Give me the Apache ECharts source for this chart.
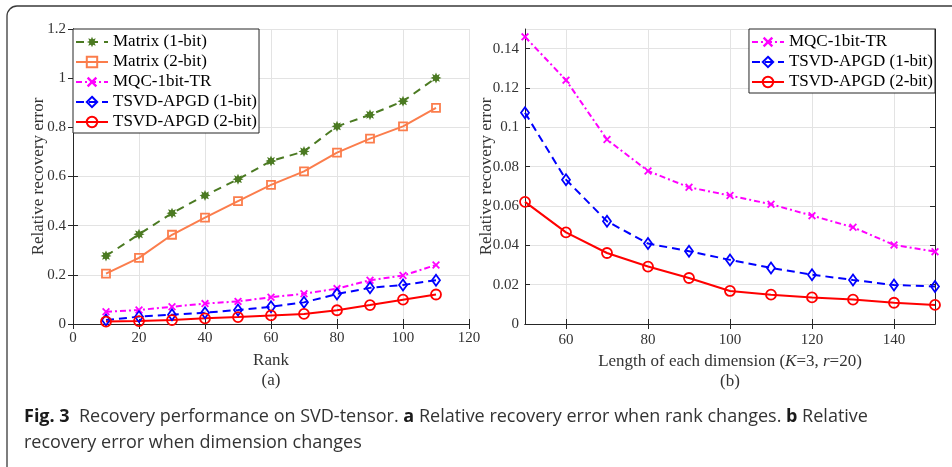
<!DOCTYPE html>
<html>
<head>
<meta charset="utf-8">
<script src="https://cdn.jsdelivr.net/npm/echarts@6/dist/echarts.min.js"></script>
<style>html,body{margin:0;padding:0;background:#fff;}#c{width:952px;height:467px;}</style>
</head>
<body>
<div id="c"></div>
<script>
// ---- Data: panel (a) ----
const rankX = [10, 20, 30, 40, 50, 60, 70, 80, 90, 100, 110];
const matrix1bit = [0.277, 0.365, 0.451, 0.523, 0.589, 0.663, 0.702, 0.804, 0.851, 0.906, 1.001];
const matrix2bit = [0.205, 0.269, 0.363, 0.433, 0.500, 0.566, 0.621, 0.697, 0.754, 0.804, 0.879];
const mqcA = [0.050, 0.057, 0.070, 0.083, 0.092, 0.109, 0.123, 0.144, 0.178, 0.197, 0.240];
const tsvd1A = [0.016, 0.030, 0.038, 0.046, 0.057, 0.070, 0.088, 0.122, 0.147, 0.159, 0.178];
const tsvd2A = [0.010, 0.012, 0.016, 0.023, 0.028, 0.035, 0.041, 0.056, 0.077, 0.099, 0.120];

// ---- Data: panel (b) ----
const dimX = ['50', '60', '70', '80', '90', '100', '110', '120', '130', '140', '150'];
const dimTickLabels = ['60', '80', '100', '120', '140'];
const mqcB = [0.1460, 0.1240, 0.0938, 0.0778, 0.0695, 0.0653, 0.0609, 0.0551, 0.0492, 0.0402, 0.0368];
const tsvd1B = [0.1074, 0.0734, 0.0522, 0.0409, 0.0370, 0.0326, 0.0285, 0.0251, 0.0224, 0.0198, 0.0191];
const tsvd2B = [0.0621, 0.0466, 0.0361, 0.0292, 0.0234, 0.0168, 0.0149, 0.0135, 0.0124, 0.0108, 0.0097];

const names = ['Matrix (1-bit)', 'Matrix (2-bit)', 'MQC-1bit-TR', 'TSVD-APGD (1-bit)', 'TSVD-APGD (2-bit)'];

const SERIF = '"Liberation Serif", "DejaVu Serif", "Times New Roman", serif';
const SANS = '"Liberation Sans Narrow", "Open Sans", sans-serif';
const AX = '#262626';
const GRID = '#e3e3e3';

// marker glyphs
function starPath(n, inner) {
  let d = '';
  for (let i = 0; i < 2 * n; i++) {
    const r = i % 2 === 0 ? 10 : 10 * inner;
    const a = Math.PI * i / n - Math.PI / 2;
    d += (i === 0 ? 'M' : 'L') + (10 + r * Math.cos(a)).toFixed(2) + ',' + (10 + r * Math.sin(a)).toFixed(2);
  }
  return 'path://' + d + 'Z';
}
const ASTER = starPath(8, 0.55);
const XMARK = 'path://M0,1.6L1.6,0L5,3.4L8.4,0L10,1.6L6.6,5L10,8.4L8.4,10L5,6.6L1.6,10L0,8.4L3.4,5Z';

const styles = {
  'Matrix (1-bit)': {color: '#4b7a22', type: [8, 6], symbol: ASTER, size: 11, fill: true},
  'Matrix (2-bit)': {color: '#fb7d4c', type: 'solid', symbol: 'rect', size: 8, fill: false},
  'MQC-1bit-TR': {color: '#ff00ff', type: [6, 3, 2, 3], symbol: XMARK, size: 8, fill: true},
  'TSVD-APGD (1-bit)': {color: '#0000ff', type: [8, 5], symbol: 'diamond', size: [8, 11], fill: false},
  'TSVD-APGD (2-bit)': {color: '#ff0000', type: 'solid', symbol: 'circle', size: 10, fill: false}
};

function mk(name, data, xi, yi) {
  const s = styles[name];
  return {
    name: name, type: 'line', xAxisIndex: xi, yAxisIndex: yi, data: data,
    symbol: s.symbol, symbolSize: s.size, showAllSymbol: true, animation: false,
    lineStyle: {color: s.color, width: 2, type: s.type},
    itemStyle: s.fill ? {color: s.color, borderWidth: 0} : {color: 'rgba(0,0,0,0)', borderColor: s.color, borderWidth: 1.8},
    emphasis: {disabled: true}
  };
}

const pair = (xs, ys) => xs.map((x, i) => [x, ys[i]]);

const tickLbl = {fontFamily: SERIF, fontSize: 15, color: '#333'};
const nameStyle = {fontFamily: SERIF, fontSize: 17, color: '#333'};
const legendText = {fontFamily: SERIF, fontSize: 17, lineHeight: 20, color: '#000'};

const option = {
  animation: false,
  backgroundColor: '#fff',
  grid: [
    {left: 73, top: 29, width: 396, height: 295},
    {left: 525, top: 29, width: 410, height: 295}
  ],
  xAxis: [
    {type: 'value', gridIndex: 0, min: 0, max: 120, interval: 20, position: 'bottom',
      axisLine: {lineStyle: {color: AX}}, axisTick: {inside: true, length: 5, lineStyle: {color: AX}},
      axisLabel: Object.assign({margin: 7}, tickLbl), splitLine: {show: true, lineStyle: {color: GRID}},
      name: 'Rank', nameLocation: 'middle', nameGap: 28, nameMoveOverlap: false, nameTextStyle: nameStyle},
    {type: 'value', gridIndex: 0, min: 0, max: 120, interval: 20, position: 'top',
      axisLine: {lineStyle: {color: AX}}, axisTick: {inside: true, length: 5, lineStyle: {color: AX}},
      axisLabel: {show: false}, splitLine: {show: false}},
    {type: 'category', gridIndex: 1, data: dimX, boundaryGap: false, position: 'bottom',
      axisLine: {lineStyle: {color: AX}},
      axisTick: {inside: true, length: 5, lineStyle: {color: AX}, interval: (i, v) => dimTickLabels.indexOf(v) >= 0},
      axisLabel: Object.assign({margin: 9, interval: (i, v) => dimTickLabels.indexOf(v) >= 0}, tickLbl),
      splitLine: {show: true, interval: (i, v) => dimTickLabels.indexOf(v) >= 0, lineStyle: {color: GRID}},
      name: 'Length of each dimension ({i|K}=3, {i|r}=20)', nameLocation: 'middle', nameGap: 29, nameMoveOverlap: false,
      nameTextStyle: Object.assign({rich: {i: {fontFamily: SERIF, fontSize: 17, fontStyle: 'italic', color: '#333'}}}, nameStyle)},
    {type: 'category', gridIndex: 1, data: dimX, boundaryGap: false, position: 'top',
      axisLine: {lineStyle: {color: AX}},
      axisTick: {inside: true, length: 5, lineStyle: {color: AX}, interval: (i, v) => dimTickLabels.indexOf(v) >= 0},
      axisLabel: {show: false}, splitLine: {show: false}}
  ],
  yAxis: [
    {type: 'value', gridIndex: 0, min: 0, max: 1.2, interval: 0.2, position: 'left',
      axisLine: {show: true, lineStyle: {color: AX}}, axisTick: {show: true, inside: true, length: 5, lineStyle: {color: AX}},
      axisLabel: Object.assign({margin: 7}, tickLbl), splitLine: {show: true, lineStyle: {color: GRID}},
      name: 'Relative recovery error', nameLocation: 'middle', nameGap: 26, nameMoveOverlap: false, nameTextStyle: nameStyle},
    {type: 'value', gridIndex: 0, min: 0, max: 1.2, interval: 0.2, position: 'right',
      axisLine: {show: true, lineStyle: {color: AX}}, axisTick: {show: true, inside: true, length: 5, lineStyle: {color: AX}},
      axisLabel: {show: false}, splitLine: {show: false}},
    {type: 'value', gridIndex: 1, min: 0, max: 0.15, interval: 0.02, position: 'left',
      axisLine: {show: true, lineStyle: {color: AX}}, axisTick: {show: true, inside: true, length: 5, lineStyle: {color: AX}},
      axisLabel: Object.assign({margin: 6, showMaxLabel: false}, tickLbl), splitLine: {show: true, lineStyle: {color: GRID}},
      name: 'Relative recovery error', nameLocation: 'middle', nameGap: 30, nameMoveOverlap: false, nameTextStyle: nameStyle},
    {type: 'value', gridIndex: 1, min: 0, max: 0.15, interval: 0.02, position: 'right',
      axisLine: {show: true, lineStyle: {color: AX}}, axisTick: {show: true, inside: true, length: 5, lineStyle: {color: AX}},
      axisLabel: {show: false}, splitLine: {show: false}}
  ],
  legend: [
    {data: names, left: 73, top: 29, orient: 'vertical', padding: [3, 2, 1, 2], itemGap: 0,
      itemWidth: 32, itemHeight: 13, backgroundColor: '#fff', borderColor: AX, borderWidth: 1,
      textStyle: legendText, selectedMode: false},
    {data: names.slice(2), right: 17, top: 29, orient: 'vertical', padding: [3, 2, 1, 2], itemGap: 0,
      itemWidth: 32, itemHeight: 13, backgroundColor: '#fff', borderColor: AX, borderWidth: 1,
      textStyle: legendText, selectedMode: false}
  ],
  graphic: [
    {type: 'rect', shape: {x: 7, y: 6, width: 1000, height: 520, r: 10}, style: {fill: 'none', stroke: '#3a3a3a', lineWidth: 1.3}, z: -1, silent: true},
    {type: 'text', x: 271, y: 381, style: {text: '(a)', font: '17px ' + SERIF, fill: '#333', align: 'center', verticalAlign: 'middle'}},
    {type: 'text', x: 730, y: 382, style: {text: '(b)', font: '17px ' + SERIF, fill: '#333', align: 'center', verticalAlign: 'middle'}},
    {type: 'text', x: 24, y: 417, style: {
      text: '{b|Fig. 3}  Recovery performance on SVD-tensor. {b|a} Relative recovery error when rank changes. {b|b} Relative',
      font: '18px ' + SANS, fill: '#333', verticalAlign: 'middle',
      rich: {b: {fontWeight: 'bold', fontSize: 18, fontFamily: SANS, fill: '#1a1a1a'}}}},
    {type: 'text', x: 24, y: 443, style: {
      text: 'recovery error when dimension changes', font: '18px ' + SANS, fill: '#333', verticalAlign: 'middle'}}
  ],
  series: [
    mk(names[0], pair(rankX, matrix1bit), 0, 0),
    mk(names[1], pair(rankX, matrix2bit), 0, 0),
    mk(names[2], pair(rankX, mqcA), 0, 0),
    mk(names[3], pair(rankX, tsvd1A), 0, 0),
    mk(names[4], pair(rankX, tsvd2A), 0, 0),
    mk(names[2], mqcB, 2, 2),
    mk(names[3], tsvd1B, 2, 2),
    mk(names[4], tsvd2B, 2, 2)
  ]
};

const chart = echarts.init(document.getElementById('c'), null, {renderer: 'canvas'});
chart.setOption(option);
</script>
</body>
</html>
